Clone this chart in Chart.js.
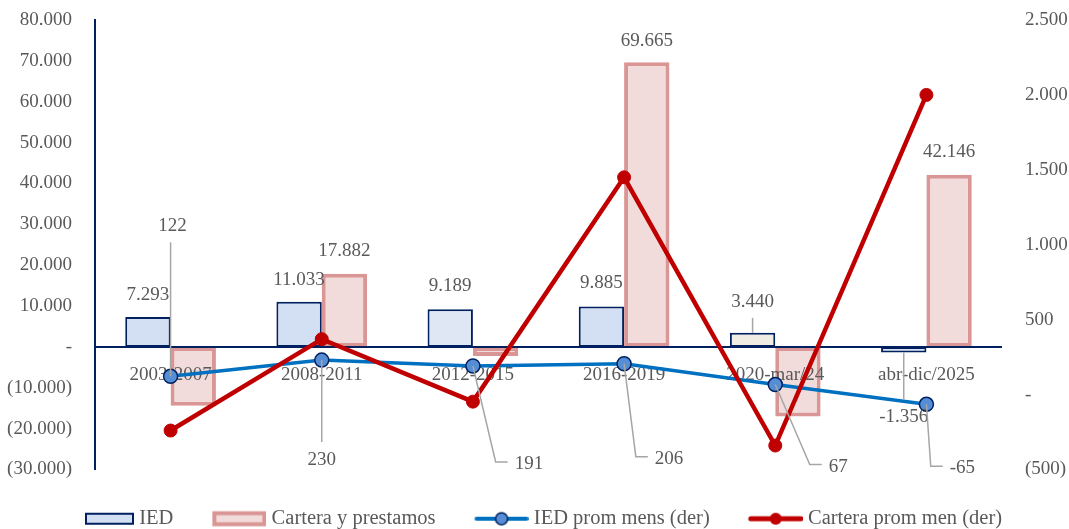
<!DOCTYPE html>
<html>
<head>
<meta charset="utf-8">
<script src="https://cdn.jsdelivr.net/npm/chart.js@4.4.1/dist/chart.umd.min.js"></script>
<style>
  html, body { margin: 0; padding: 0; background: #ffffff; }
  #wrap { width: 1069px; height: 529px; }
</style>
</head>
<body>
<div id="wrap"><canvas id="chart" width="1069" height="529"></canvas></div>
<script>
// --- data ---
const categories = ["2003-2007", "2008-2011", "2012-2015", "2016-2019", "2020-mar/24", "abr-dic/2025"];
const iedValues = [7293, 11033, 9189, 9885, 3440, -1356];
const carteraValues = [-14400, 17882, -2200, 69665, -17000, 42146];
const iedPromValues = [122, 230, 191, 206, 67, -65];
const carteraPromValues = [-240, 370, -47, 1450, -340, 2000];
const leftTickValues = [-30000, -20000, -10000, 0, 10000, 20000, 30000, 40000, 50000, 60000, 70000, 80000];
const rightTickValues = [-500, 0, 500, 1000, 1500, 2000, 2500];

// --- styling ---
const navy = "#002060";
const grey = "#595959";
const fontFamily = '"Liberation Serif", "Times New Roman", serif';
const iedFill = ["#D3E0F3", "#D3E0F3", "#DEE7F3", "#D3E0F3", "#EEECE3", "#D3E0F3"];
const pinkFill = "#F2DCDB";
const pinkBorder = "#DA9694";

// where each data label sits, relative to the bar end / point (px)
const iedLabelPos = [
  { dx: 0, dy: -22 }, { dx: 0, dy: -22 }, { dx: 0, dy: -23 },
  { dx: 0, dy: -23 }, { dx: 0, dy: -31, leader: "v" }, { dx: 0, dy: 65, leader: "v" }
];
const carteraLabelPos = [null, { dx: 0, dy: -23 }, null, { dx: 0, dy: -21 }, null, { dx: 0, dy: -23 }];
const iedPromLabelPos = [
  { dx: 2, dy: -150, leader: "v" }, { dx: 0, dy: 100, leader: "v" }, { dx: 56, dy: 98, leader: "elbow" },
  { dx: 45, dy: 95, leader: "elbow" }, { dx: 63, dy: 82, leader: "elbow" }, { dx: 36, dy: 64, leader: "elbow" }
];
const labelLayouts = [iedLabelPos, carteraLabelPos, iedPromLabelPos, null];

function thousands(v) {
  return String(Math.abs(v)).replace(/\B(?=(\d{3})+(?!\d))/g, ".");
}
function axisFmt(v) {
  if (v === 0) return "-";
  return v < 0 ? "(" + thousands(v) + ")" : thousands(v);
}
function labelFmt(v) {
  return (v < 0 ? "-" : "") + thousands(v);
}

// legend glyphs: right-aligned inside a wider transparent canvas,
// the blank left part gives the gap between legend entries
function glyph(kind) {
  const c = document.createElement("canvas");
  c.width = 98; c.height = 20;
  const g = c.getContext("2d");
  if (kind === "ied") {
    g.fillStyle = "#D3E0F3";
    g.fillRect(49, 4, 49, 12);
    g.strokeStyle = navy; g.lineWidth = 2;
    g.strokeRect(50, 5, 47, 10);
  } else if (kind === "cartera") {
    g.fillStyle = pinkFill;
    g.fillRect(46, 4.5, 50, 11);
    g.strokeStyle = pinkBorder; g.lineWidth = 4;
    g.strokeRect(46, 4.5, 50, 11);
  } else {
    const col = kind === "iedProm" ? "#0070C0" : "#C00000";
    g.strokeStyle = col; g.lineWidth = kind === "iedProm" ? 4 : 5;
    g.lineCap = "round";
    g.beginPath(); g.moveTo(46, 10); g.lineTo(96, 10); g.stroke();
    g.beginPath(); g.arc(71, 10, 6, 0, Math.PI * 2);
    g.fillStyle = kind === "iedProm" ? "#558ED5" : "#C00000";
    g.fill();
    if (kind === "iedProm") { g.strokeStyle = navy; g.lineWidth = 1.5; g.stroke(); }
  }
  return c;
}
const legendGlyphs = [glyph("ied"), glyph("cartera"), glyph("iedProm"), glyph("carteraProm")];

const labelPlugin = {
  id: "valueLabels",
  afterDatasetDraw(chart, args) {
    // zero line and category names go above the bars but under the lines
    if (args.index !== 0) return;
    const { ctx, chartArea, scales } = chart;
    const y0 = scales.y.getPixelForValue(0);
    ctx.save();
    ctx.strokeStyle = navy;
    ctx.lineWidth = 2;
    ctx.beginPath();
    ctx.moveTo(chartArea.left, y0);
    ctx.lineTo(chartArea.right, y0);
    ctx.stroke();
    ctx.font = "19px " + fontFamily;
    ctx.fillStyle = grey;
    ctx.textAlign = "center";
    ctx.textBaseline = "middle";
    categories.forEach((c, i) => ctx.fillText(c, scales.x.getPixelForValue(i), y0 + 28));
    ctx.restore();
  },
  afterDatasetsDraw(chart) {
    const ctx = chart.ctx;
    ctx.save();
    ctx.font = "19px " + fontFamily;
    ctx.fillStyle = grey;
    ctx.textAlign = "center";
    ctx.textBaseline = "middle";
    ctx.strokeStyle = "#A6A6A6";
    ctx.lineWidth = 1.5;
    labelLayouts.forEach((layout, di) => {
      if (!layout) return;
      const meta = chart.getDatasetMeta(di);
      const values = chart.data.datasets[di].data;
      meta.data.forEach((el, i) => {
        const pos = layout[i];
        if (!pos) return;
        const ax = el.x, ay = el.y;
        const lx = ax + pos.dx, ly = ay + pos.dy;
        const text = labelFmt(values[i]);
        const w = ctx.measureText(text).width;
        if (pos.leader === "v") {
          ctx.beginPath();
          ctx.moveTo(ax, ay);
          ctx.lineTo(ax, pos.dy < 0 ? ly + 16 : ly - 18);
          ctx.stroke();
        } else if (pos.leader === "elbow") {
          const left = lx - w / 2;
          ctx.beginPath();
          ctx.moveTo(ax, ay);
          ctx.lineTo(left - 19, ly - 2);
          ctx.lineTo(left - 7, ly - 2);
          ctx.stroke();
        }
        ctx.fillText(text, lx, ly);
      });
    });
    ctx.restore();
  }
};

// fixed axis widths, and no extra room above/below for the end labels
function fixAxis(width) {
  return (scale) => {
    scale.width = width;
    scale.paddingTop = 0;
    scale.paddingBottom = 0;
  };
}

Chart.defaults.font.family = fontFamily;
Chart.defaults.font.size = 19;
Chart.defaults.color = grey;

new Chart(document.getElementById("chart"), {
  data: {
    labels: categories,
    datasets: [
      {
        type: "bar",
        label: "IED",
        data: iedValues,
        yAxisID: "y",
        backgroundColor: iedFill,
        borderColor: navy,
        borderWidth: 2,
        borderSkipped: false,
        order: 2
      },
      {
        type: "bar",
        label: "Cartera y prestamos",
        data: carteraValues,
        yAxisID: "y",
        backgroundColor: pinkFill,
        borderColor: pinkBorder,
        borderWidth: 4,
        borderSkipped: false,
        order: 2
      },
      {
        type: "line",
        label: "IED prom mens (der)",
        data: iedPromValues,
        yAxisID: "y1",
        borderColor: "#0070C0",
        borderWidth: 3.5,
        pointRadius: 7,
        pointBackgroundColor: "#558ED5",
        pointBorderColor: navy,
        pointBorderWidth: 1.5,
        tension: 0,
        order: 1
      },
      {
        type: "line",
        label: "Cartera prom men (der)",
        data: carteraPromValues,
        yAxisID: "y1",
        borderColor: "#C00000",
        borderWidth: 4.5,
        pointRadius: 6.5,
        pointBackgroundColor: "#C00000",
        pointBorderColor: "#C00000",
        pointBorderWidth: 1,
        tension: 0,
        order: 0
      }
    ]
  },
  options: {
    responsive: false,
    animation: false,
    layout: { padding: { top: 20, left: -26, right: 0, bottom: -10 } },
    datasets: { bar: { categoryPercentage: 0.6, barPercentage: 1 } },
    scales: {
      x: {
        display: false
      },
      y: {
        position: "left",
        min: -30000,
        max: 80000,
        afterBuildTicks: (scale) => { scale.ticks = leftTickValues.map(v => ({ value: v })); },
        afterFit: fixAxis(121),
        grid: { display: false, drawTicks: false },
        border: { display: true, color: navy, width: 2 },
        ticks: { padding: 23, color: grey, callback: (v) => axisFmt(v) }
      },
      y1: {
        position: "right",
        min: -500,
        max: 2500,
        afterBuildTicks: (scale) => { scale.ticks = rightTickValues.map(v => ({ value: v })); },
        afterFit: fixAxis(67),
        grid: { display: false, drawTicks: false },
        border: { display: false },
        ticks: { padding: 23, color: grey, callback: (v) => axisFmt(v) }
      }
    },
    plugins: {
      tooltip: { enabled: false },
      legend: {
        position: "bottom",
        title: { display: true, text: "", font: { size: 10 }, padding: { top: 0, bottom: 27 } },
        labels: {
          usePointStyle: true,
          pointStyleWidth: 88,
          padding: 0,
          color: grey,
          font: { size: 20.5 },
          generateLabels(chart) {
            const items = Chart.defaults.plugins.legend.labels.generateLabels(chart);
            items.sort((a, b) => a.datasetIndex - b.datasetIndex);
            items.forEach(it => { it.pointStyle = legendGlyphs[it.datasetIndex]; });
            return items;
          }
        }
      }
    }
  },
  plugins: [labelPlugin]
});
</script>
</body>
</html>
